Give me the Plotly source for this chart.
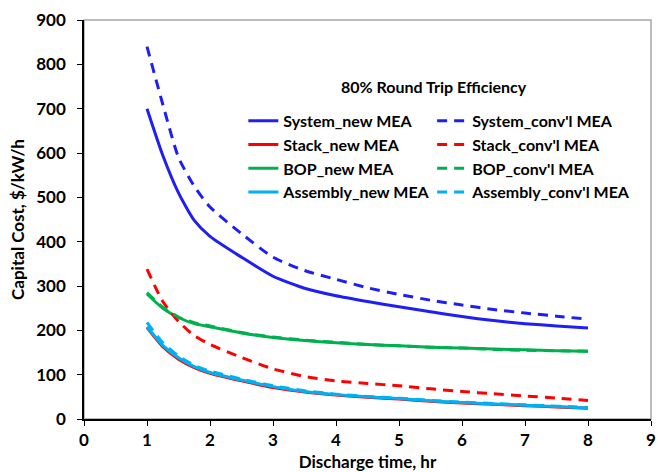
import plotly.graph_objects as go

hours = [1, 1.25, 1.5, 1.75, 2, 2.5, 3, 3.5, 4, 4.5, 5, 5.5, 6, 6.5, 7, 7.5, 8]

system_new = [700, 595, 510, 448, 412, 365, 322, 295, 278, 265, 253, 242, 231, 222, 215, 210, 205]
stack_new = [206, 163, 135, 116, 103, 86, 71, 61, 54, 49, 45, 40, 36, 33, 30, 27, 24]
bop_new = [282, 250, 229, 215, 208, 194, 184, 177, 172, 168, 165, 162, 160, 158, 156, 154, 153]
assembly_new = [208, 166, 138, 118, 105, 88, 73, 62, 55, 50, 46, 41, 37, 34, 31, 28, 25]

system_conv = [840, 710, 590, 525, 478, 418, 365, 335, 315, 296, 281, 268, 257, 247, 239, 232, 225]
stack_conv = [338, 265, 220, 188, 168, 139, 113, 96, 86, 80, 75, 68, 62, 57, 52, 47, 42]
bop_conv = [285, 252, 230, 217, 210, 195, 185, 178, 173, 168, 165, 162, 160, 157, 155, 154, 153]
assembly_conv = [218, 172, 142, 121, 108, 90, 75, 64, 56, 51, 47, 42, 38, 35, 32, 29, 26]

BLUE = "#1F1FF5"
RED = "#FF0000"
GREEN = "#00B050"
CYAN = "#00B0F0"
FONT = "Lato"

fig = go.Figure()

series = [
    ("System_new MEA", system_new, BLUE, "solid", "legend"),
    ("Stack_new MEA", stack_new, RED, "solid", "legend"),
    ("BOP_new MEA", bop_new, GREEN, "solid", "legend"),
    ("Assembly_new MEA", assembly_new, CYAN, "solid", "legend"),
    ("System_conv'l MEA", system_conv, BLUE, "10px,7px", "legend2"),
    ("Stack_conv'l MEA", stack_conv, RED, "10px,7px", "legend2"),
    ("BOP_conv'l MEA", bop_conv, GREEN, "10px,7px", "legend2"),
    ("Assembly_conv'l MEA", assembly_conv, CYAN, "10px,7px", "legend2"),
]

for name, vals, color, dash, leg in series:
    fig.add_trace(go.Scatter(
        x=hours, y=vals, name=name, mode="lines",
        line=dict(color=color, width=3, dash=dash, shape="spline", smoothing=0.6),
        legend=leg,
    ))

legend_style = dict(
    font=dict(family=FONT, size=16, color="black", weight="bold"),
    bgcolor="rgba(0,0,0,0)",
    yanchor="top",
    tracegroupgap=0,
)

fig.update_layout(
    width=658,
    height=472,
    margin=dict(l=84, r=7, t=20, b=53),
    paper_bgcolor="white",
    plot_bgcolor="white",
    font=dict(family=FONT, color="black"),
    legend=dict(x=0.281, y=0.79, **legend_style),
    legend2=dict(x=0.614, y=0.79, **legend_style),
    xaxis=dict(
        range=[0, 9], dtick=1, showgrid=False, zeroline=False, automargin=False,
        showline=True, linecolor="black", linewidth=1.5,
        ticks="outside", ticklen=5, tickcolor="black",
        ticklabeloverflow="allow",
        tickfont=dict(family=FONT, size=17, weight="bold"),
        title=dict(text="Discharge time, hr", font=dict(family=FONT, size=17, weight="bold")),
    ),
    yaxis=dict(
        range=[0, 900], dtick=100, showgrid=False, zeroline=False, automargin=False,
        showline=True, linecolor="black", linewidth=1.5,
        ticks="outside", ticklen=5, tickcolor="black",
        ticklabelstandoff=8,
        tickfont=dict(family=FONT, size=17, weight="bold"),
        title=dict(text="Capital Cost, $/kW/h", font=dict(family=FONT, size=17, weight="bold"), standoff=7),
    ),
    shapes=[dict(
        type="rect", xref="paper", yref="paper", x0=0, y0=0, x1=1, y1=1,
        line=dict(color="#A6A6A6", width=1.5), layer="below",
    )],
    annotations=[dict(
        text="80% Round Trip Efficiency", xref="paper", yref="paper",
        x=0.617, y=0.863, showarrow=False,
        font=dict(family=FONT, size=16, weight="bold", color="black"),
    )],
)

# drop the default page margin so the figure fills the window exactly
fig.write_html(
    "out.html",
    config={"displayModeBar": False},
    post_script="document.body.style.margin = '0';",
)
